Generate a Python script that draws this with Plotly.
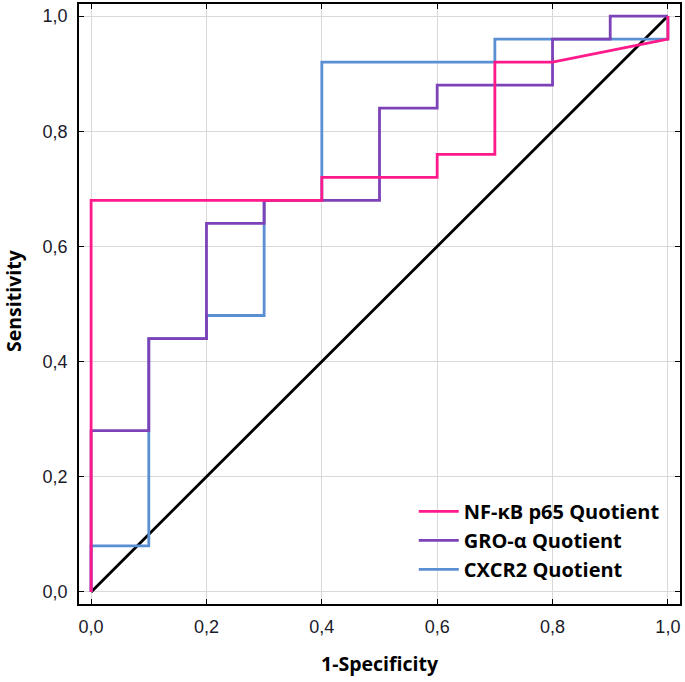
import plotly.graph_objects as go

nf_x = [0, 0, 0.4, 0.4, 0.6, 0.6, 0.7, 0.7, 0.8, 1.0, 1.0]
nf_y = [0, 0.68, 0.68, 0.72, 0.72, 0.76, 0.76, 0.92, 0.92, 0.96, 1.0]

gro_x = [0, 0, 0.1, 0.1, 0.2, 0.2, 0.3, 0.3, 0.5, 0.5, 0.6, 0.6, 0.8, 0.8, 0.9, 0.9, 1.0]
gro_y = [0, 0.28, 0.28, 0.44, 0.44, 0.64, 0.64, 0.68, 0.68, 0.84, 0.84, 0.88, 0.88, 0.96, 0.96, 1.0, 1.0]

cx_x = [0, 0, 0.1, 0.1, 0.2, 0.2, 0.3, 0.3, 0.4, 0.4, 0.7, 0.7, 1.0, 1.0]
cx_y = [0, 0.08, 0.08, 0.44, 0.44, 0.48, 0.48, 0.68, 0.68, 0.92, 0.92, 0.96, 0.96, 1.0]

ref_x = [0, 1]
ref_y = [0, 1]

tick_vals = [0, 0.2, 0.4, 0.6, 0.8, 1.0]
tick_text = ["0,0", "0,2", "0,4", "0,6", "0,8", "1,0"]

fig = go.Figure()
fig.add_trace(go.Scatter(x=ref_x, y=ref_y, mode="lines", line=dict(color="black", width=2.8),
                         showlegend=False, hoverinfo="skip"))
fig.add_trace(go.Scatter(x=cx_x, y=cx_y, mode="lines", name="CXCR2 Quotient",
                         line=dict(color="#5b8fd3", width=2.8)))
fig.add_trace(go.Scatter(x=gro_x, y=gro_y, mode="lines", name="GRO-α Quotient",
                         line=dict(color="#7d42b8", width=2.8)))
fig.add_trace(go.Scatter(x=nf_x, y=nf_y, mode="lines", name="NF-κB p65 Quotient",
                         line=dict(color="#ff1a8c", width=2.8)))

axis_common = dict(
    range=[-0.021, 1.021], tickvals=tick_vals, ticktext=tick_text,
    showgrid=True, gridcolor="#d9d9d9", gridwidth=1,
    showline=True, linecolor="black", linewidth=1.5, mirror="ticks",
    ticks="inside", ticklen=5, tickcolor="black", tickwidth=1.2,
    zeroline=False, automargin=False,
    tickfont=dict(family="Liberation Sans, Arial", size=18, color="#1a1a2a"),
)

fig.update_layout(
    width=685, height=682,
    margin=dict(l=79, r=5, t=4, b=78),
    paper_bgcolor="white", plot_bgcolor="white",
    xaxis=dict(**axis_common, ticklabelstandoff=6),
    yaxis=dict(**axis_common, ticklabelstandoff=6),
    legend=dict(x=0.557, y=0.187, xanchor="left", yanchor="top",
                traceorder="reversed", bgcolor="rgba(0,0,0,0)",
                font=dict(family="Open Sans", size=20, color="black", weight="bold"),
                itemwidth=40, tracegroupgap=0),
    showlegend=True,
    annotations=[
        dict(text="<b>1-Specificity</b>", xref="paper", yref="paper", x=0.5, y=0,
             xanchor="center", yanchor="middle", yshift=-59, showarrow=False,
             font=dict(family="Open Sans", size=19.5, color="black")),
        dict(text="<b>Sensitivity</b>", xref="paper", yref="paper", x=0, y=0.5,
             xanchor="center", yanchor="middle", xshift=-66, yshift=3, textangle=-90,
             showarrow=False, font=dict(family="Open Sans", size=19.5, color="black")),
    ],
)

fig.write_html("out.html", config={"displayModeBar": False},
               post_script="document.body.style.margin='0';document.body.style.overflow='hidden';")
